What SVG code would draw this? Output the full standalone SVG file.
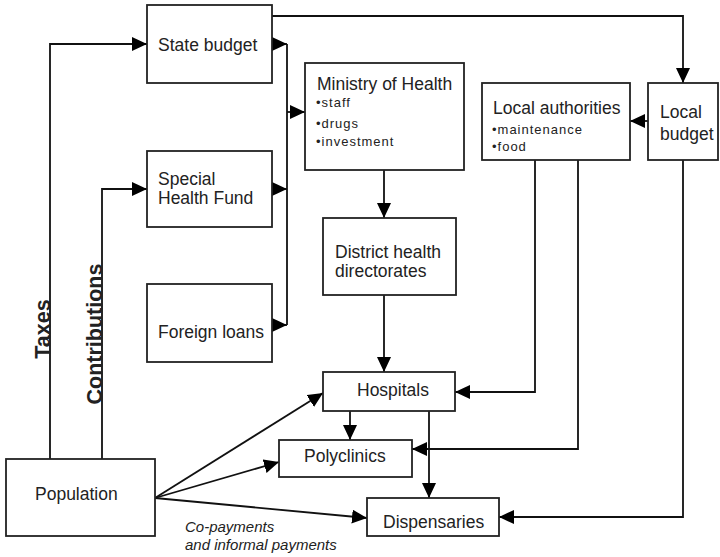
<svg xmlns="http://www.w3.org/2000/svg" width="720" height="557" viewBox="0 0 720 557">
<defs>
<marker id="ah" markerWidth="15" markerHeight="14" refX="15" refY="7" orient="auto" markerUnits="userSpaceOnUse">
<path d="M0,0 L15,7 L0,14 Z" fill="#000"/>
</marker>
<style>
rect{fill:#fff;stroke:#222;stroke-width:1.8}
.c path{fill:none;stroke:#111;stroke-width:1.8}
text{font-family:"Liberation Sans",Arial,sans-serif;fill:#222}
.n{font-size:17.5px}
.s{font-size:13px;letter-spacing:1px}
.b{font-size:21.5px;font-weight:bold}
.i{font-size:15px;font-style:italic}
</style>
</defs>
<rect width="720" height="557" style="fill:#fff;stroke:none"/>
<g class="c">
<path d="M50,459 V44 H147" marker-end="url(#ah)"/>
<path d="M102,459 V189 H147" marker-end="url(#ah)"/>
<path d="M272,16 H683 V83" marker-end="url(#ah)"/>
<path d="M272,44 H287" marker-end="url(#ah)"/>
<path d="M272,189 H287" marker-end="url(#ah)"/>
<path d="M272,325 H287" marker-end="url(#ah)"/>
<path d="M287,44 V325"/>
<path d="M287,112 H305" marker-end="url(#ah)"/>
<path d="M384,170 V218" marker-end="url(#ah)"/>
<path d="M384,295 V372" marker-end="url(#ah)"/>
<path d="M648,121 H630" marker-end="url(#ah)"/>
<path d="M535,160 V392 H455" marker-end="url(#ah)"/>
<path d="M578,160 V449 H412" marker-end="url(#ah)"/>
<path d="M683,160 V517 H499" marker-end="url(#ah)"/>
<path d="M350,411 V440" marker-end="url(#ah)"/>
<path d="M429,411 V498" marker-end="url(#ah)"/>
<path d="M155,498 L323,393" marker-end="url(#ah)"/>
<path d="M155,498 L279,462" marker-end="url(#ah)"/>
<path d="M155,498 L367,518" marker-end="url(#ah)"/>
</g>
<g id="state-budget"><rect x="147" y="5" width="125" height="78"/><text class="n" x="158" y="51">State budget</text></g>
<g id="special-health-fund"><rect x="147" y="151" width="125" height="76"/><text class="n" x="158" y="185">Special</text><text class="n" x="158" y="204">Health Fund</text></g>
<g id="foreign-loans"><rect x="147" y="284" width="125" height="78"/><text class="n" x="158" y="338">Foreign loans</text></g>
<g id="population"><rect x="6" y="459" width="149" height="77"/><text class="n" x="35" y="500">Population</text></g>
<g id="ministry"><rect x="305" y="63" width="159" height="107"/><text class="n" x="317" y="90">Ministry of Health</text><text class="s" x="316" y="107">•staff</text><text class="s" x="316" y="128">•drugs</text><text class="s" x="316" y="146">•investment</text></g>
<g id="local-authorities"><rect x="482" y="83" width="148" height="77"/><text class="n" x="493" y="114">Local authorities</text><text class="s" x="492" y="134">•maintenance</text><text class="s" x="492" y="151">•food</text></g>
<g id="local-budget"><rect x="648" y="83" width="70" height="77"/><text class="n" x="660" y="118">Local</text><text class="n" x="660" y="140">budget</text></g>
<g id="district"><rect x="323" y="218" width="133" height="77"/><text class="n" x="335" y="258">District health</text><text class="n" x="335" y="277">directorates</text></g>
<g id="hospitals"><rect x="323" y="372" width="132" height="39"/><text class="n" x="357" y="396">Hospitals</text></g>
<g id="polyclinics"><rect x="279" y="440" width="133" height="37"/><text class="n" x="304" y="462">Polyclinics</text></g>
<g id="dispensaries"><rect x="367" y="498" width="132" height="38"/><text class="n" x="383" y="528">Dispensaries</text></g>
<text class="b" transform="translate(50,329) rotate(-90)" text-anchor="middle">Taxes</text>
<text class="b" transform="translate(102,334) rotate(-90)" text-anchor="middle">Contributions</text>
<text class="i" x="185" y="532">Co-payments</text>
<text class="i" x="185" y="550">and informal payments</text>
</svg>
